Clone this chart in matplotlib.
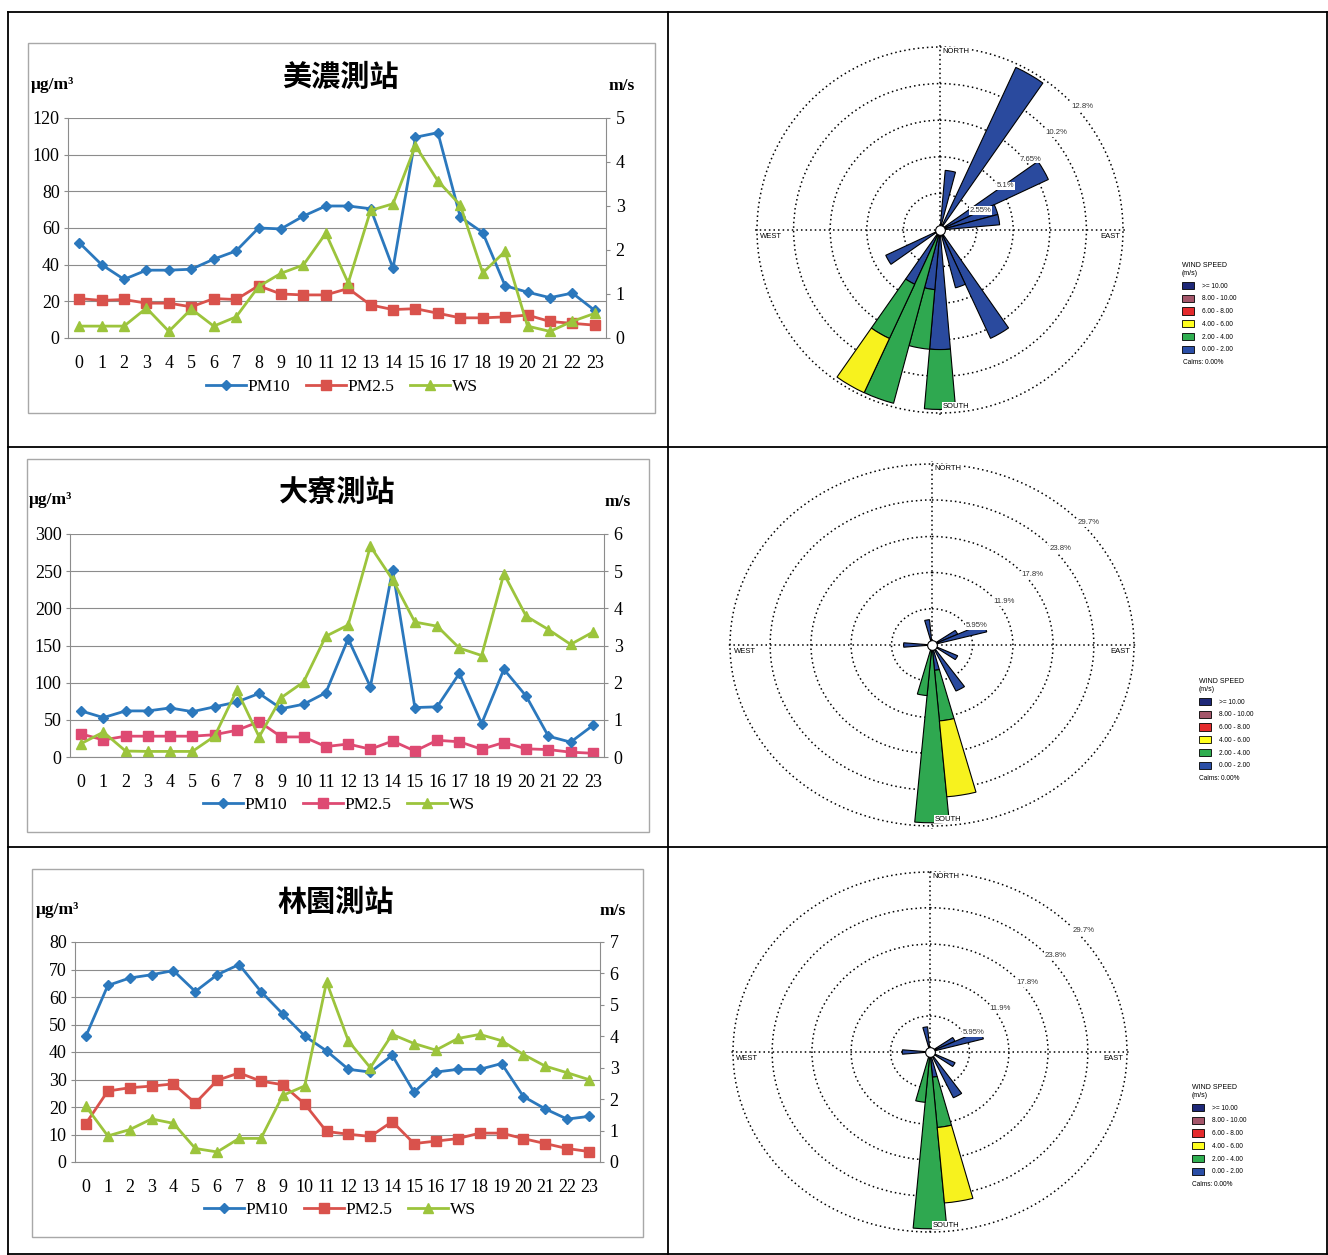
import numpy as np
import matplotlib
matplotlib.use("Agg")
import matplotlib.pyplot as plt
from matplotlib.lines import Line2D
from matplotlib.patches import Rectangle, Patch

plt.rcParams["font.family"] = ["Liberation Serif", "DejaVu Serif"]

W, H = 1328, 1255

# ---------------- hourly concentrations / wind speed ----------------
hours = list(range(24))
series_names = ["PM10", "PM2.5", "WS"]

meinong_pm10 = [52, 40, 32, 37, 37, 37.5, 43, 47.5, 60, 59.5, 66.5, 72, 72, 70.5,
                38, 109.5, 112, 66, 57.5, 28.5, 25, 22, 24.5, 15]
meinong_pm25 = [21.5, 20.5, 21, 19, 19, 17, 21.5, 21, 28.5, 24, 23.5, 23.5, 27, 18,
                15.5, 16, 13.5, 11, 11, 11.5, 12.5, 9, 8, 7]
meinong_ws = [0.27, 0.27, 0.27, 0.68, 0.15, 0.66, 0.27, 0.48, 1.17, 1.47, 1.66, 2.38,
              1.25, 2.9, 3.05, 4.37, 3.57, 3.02, 1.48, 1.97, 0.27, 0.15, 0.38, 0.56]

daliao_pm10 = [62, 53, 62, 62, 66, 61, 67.5, 74, 85.5, 65, 71, 86.5, 159, 94.5,
               252, 66.5, 67.5, 112.5, 45, 118, 82, 28, 20, 42.5]
daliao_pm25 = [31, 23, 28, 28, 28, 28, 30, 36, 47.5, 27, 27, 14, 17.5, 10.5,
               21.5, 8, 22.5, 20.5, 10.5, 19.5, 11, 10, 6.5, 5]
daliao_ws = [0.36, 0.67, 0.16, 0.15, 0.15, 0.15, 0.56, 1.8, 0.54, 1.6, 2.02, 3.25,
             3.55, 5.67, 4.77, 3.63, 3.52, 2.93, 2.73, 4.93, 3.79, 3.43, 3.03, 3.36]

linyuan_pm10 = [45.8, 64.2, 66.9, 68.1, 69.6, 62, 68.1, 71.8, 62, 53.8, 45.8, 40.4,
                33.7, 32.7, 38.8, 25.4, 32.7, 33.7, 33.7, 35.8, 23.8, 19.3, 15.6, 16.6]
linyuan_pm25 = [14, 25.8, 27, 27.6, 28.4, 21.4, 29.7, 32.4, 29.4, 28.1, 21.1, 11.1,
                10.1, 9.3, 14.7, 6.7, 7.6, 8.5, 10.5, 10.5, 8.5, 6.7, 4.9, 3.8]
linyuan_ws = [1.77, 0.83, 1.03, 1.37, 1.23, 0.43, 0.32, 0.75, 0.75, 2.12, 2.42, 5.73,
              3.85, 3.0, 4.06, 3.77, 3.56, 3.93, 4.06, 3.86, 3.42, 3.05, 2.84, 2.62]

# ---------------- wind roses (percent of hours per direction and speed class) ----------------
speed_classes = [">= 10.00", "8.00 - 10.00", "6.00 - 8.00", "4.00 - 6.00",
                 "2.00 - 4.00", "0.00 - 2.00"]

meinong_dirs = [10, 30, 60, 70, 80, 150, 160, 180, 190, 200, 210, 240]
meinong_s02 = [4.17, 12.5, 8.33, 4.17, 4.17, 8.33, 4.17, 8.33, 4.17, 0, 4.17, 4.17]
meinong_s24 = [0, 0, 0, 0, 0, 0, 0, 4.17, 4.17, 12.5, 4.17, 0]
meinong_s46 = [0, 0, 0, 0, 0, 0, 0, 0, 0, 0, 4.17, 0]
meinong_rings = [2.55, 5.1, 7.65, 10.2, 12.75]
meinong_ring_labels = ["2.55%", "5.1%", "7.65%", "10.2%", "12.8%"]

daliao_dirs = [60, 70, 120, 150, 170, 180, 190, 270, 350]
daliao_s02 = [4.17, 8.33, 4.17, 8.33, 4.17, 0, 0, 4.17, 4.17]
daliao_s24 = [0, 0, 0, 0, 8.33, 29.17, 8.33, 0, 0]
daliao_s46 = [0, 0, 0, 0, 12.5, 0, 0, 0, 0]
daliao_rings = [5.95, 11.9, 17.8, 23.8, 29.7]
daliao_ring_labels = ["5.95%", "11.9%", "17.8%", "23.8%", "29.7%"]

linyuan_dirs = [60, 70, 120, 150, 170, 180, 190, 270, 350]
linyuan_s02 = [4.17, 8.33, 4.17, 8.33, 4.17, 0, 0, 4.17, 4.17]
linyuan_s24 = [0, 0, 0, 0, 8.33, 29.17, 8.33, 0, 0]
linyuan_s46 = [0, 0, 0, 0, 12.5, 0, 0, 0, 0]
linyuan_rings = [5.95, 11.9, 17.8, 23.8, 29.7]
linyuan_ring_labels = ["5.95%", "11.9%", "17.8%", "23.8%", "29.7%"]

# ---------------- styling ----------------
C_PM10 = "#2b78bd"
C_WS = "#9cc43c"
C_GRID = "#8c8c8c"
ROSE_BLUE = "#2a4a9e"
ROSE_GREEN = "#2fa850"
ROSE_YELLOW = "#f7f21e"
legend_colors = ["#1e2878", "#a4566a", "#e42a2c", "#ffff1e", "#2fae50", "#2a4ea6"]
SANS = ["Liberation Sans", "DejaVu Sans"]
CJK = ["Noto Sans CJK TC", "DejaVu Sans"]
TICK_FS = 13

fig = plt.figure(figsize=(W / 100, H / 100), dpi=100)
fig.patch.set_facecolor("white")


def fx(x):
    return x / W


def fy(y):
    return 1 - y / H


def px_rect(x0, y0, x1, y1):
    return [x0 / W, 1 - y1 / H, (x1 - x0) / W, (y1 - y0) / H]


def fig_line(xs, ys, lw=1.3, color="black"):
    fig.add_artist(Line2D([fx(v) for v in xs], [fy(v) for v in ys],
                          transform=fig.transFigure, color=color, lw=lw))


# table frame
fig_line([8, 1327], [12, 12])
fig_line([8, 1327], [447, 447])
fig_line([8, 1327], [847, 847])
fig_line([8, 1327], [1254, 1254])
fig_line([8, 8], [12, 1254])
fig_line([668, 668], [12, 1254])
fig_line([1327, 1327], [12, 1254])


def hourly_panel(frame, plot, title, title_pos, lunit_pos, runit_pos, legend_pos,
                 pm10, pm25, ws, left_max, left_step, right_max, pm25_color):
    fig.add_artist(Rectangle((fx(frame[0]), fy(frame[3])),
                             (frame[2] - frame[0]) / W, (frame[3] - frame[1]) / H,
                             transform=fig.transFigure, fill=False, ec="#a8a8a8", lw=1.0))
    ax = fig.add_axes(px_rect(*plot))
    ax2 = ax.twinx()
    x = np.arange(len(hours))
    ax.plot(x, pm25, color=pm25_color, lw=2.0, marker="s", ms=6.5, zorder=2)
    ax.plot(x, pm10, color=C_PM10, lw=2.0, marker="D", ms=5.5, zorder=3)
    ax2.plot(x, ws, color=C_WS, lw=2.0, marker="^", ms=7.5, zorder=3)

    ax.set_xlim(-0.5, len(hours) - 0.5)
    ax.set_ylim(0, left_max)
    ax.set_yticks(np.arange(0, left_max + 1, left_step))
    ax2.set_ylim(0, right_max)
    ax2.set_yticks(np.arange(0, right_max + 1, 1))
    ax.set_xticks(x)
    ax.set_xticklabels([str(h) for h in hours])
    ax.grid(axis="y", color=C_GRID, lw=0.8)
    ax.set_axisbelow(True)
    for a in (ax, ax2):
        a.set_facecolor("none")
        for s in a.spines.values():
            s.set_visible(False)
    ax.spines["left"].set_visible(True)
    ax.spines["bottom"].set_visible(True)
    ax2.spines["right"].set_visible(True)
    for s in (ax.spines["left"], ax.spines["bottom"], ax2.spines["right"]):
        s.set_color(C_GRID)
        s.set_linewidth(0.8)
    ax.tick_params(axis="y", length=3, color=C_GRID, labelsize=TICK_FS, pad=3)
    ax2.tick_params(axis="y", length=3, color=C_GRID, labelsize=TICK_FS, pad=4)
    ax.tick_params(axis="x", length=0, labelsize=TICK_FS, pad=12)

    handles = [Line2D([], [], color=C_PM10, lw=2.0, marker="D", ms=5.5),
               Line2D([], [], color=pm25_color, lw=2.0, marker="s", ms=6.5),
               Line2D([], [], color=C_WS, lw=2.0, marker="^", ms=7.5)]
    ax.legend(handles, series_names, loc="center",
              bbox_to_anchor=(fx(legend_pos[0]), fy(legend_pos[1])),
              bbox_transform=fig.transFigure, ncol=3, frameon=False, fontsize=12.5,
              handlelength=2.3, handletextpad=0.1, columnspacing=0.9)

    fig.text(fx(title_pos[0]), fy(title_pos[1]), title, family=CJK, weight="bold",
             fontsize=21, ha="center", va="center")
    fig.text(fx(lunit_pos[0]), fy(lunit_pos[1]), "μg/m³", weight="bold",
             fontsize=12.5, ha="left", va="center")
    fig.text(fx(runit_pos[0]), fy(runit_pos[1]), "m/s", weight="bold",
             fontsize=12.5, ha="left", va="center")


hourly_panel((28, 43, 655, 413), (68, 118, 606, 338), "美濃測站", (340, 77),
             (31, 85), (609, 86), (342, 387),
             meinong_pm10, meinong_pm25, meinong_ws, 120, 20, 5, "#d9524c")
hourly_panel((27, 459, 649, 832), (70, 534, 604, 757), "大寮測站", (337, 492),
             (29, 500), (605, 502), (339, 805),
             daliao_pm10, daliao_pm25, daliao_ws, 300, 50, 6, "#de4a72")
hourly_panel((32, 869, 643, 1237), (75, 942, 600, 1162), "林園測站", (336, 902),
             (36, 910), (600, 911), (340, 1210),
             linyuan_pm10, linyuan_pm25, linyuan_ws, 80, 10, 7, "#d9524c")


def wind_rose(center, rx, ry, dirs, s02, s24, s46, rings, ring_labels, legend_pos, calms_pos):
    cx, cy = center
    grow = 1.015  # keep the outermost dotted ring fully inside the axes
    ax = fig.add_axes(px_rect(cx - rx * grow, cy - ry * grow, cx + rx * grow, cy + ry * grow),
                      projection="polar")
    ax.set_aspect("auto")
    ax.set_theta_zero_location("N")
    ax.set_theta_direction(-1)
    rmax = rings[-1]
    ax.set_ylim(0, rmax * grow)
    ax.set_rticks(rings)
    ax.set_yticklabels([])
    ax.set_thetagrids([0, 90, 180, 270], labels=["", "", "", ""])
    ax.grid(True, color="black", linestyle=(0, (1.0, 2.0)), lw=1.1)
    ax.spines["polar"].set_visible(False)
    ax.set_axisbelow(True)
    ax.set_facecolor("none")

    theta = np.deg2rad(dirs)
    base = np.zeros(len(dirs))
    for vals, col in ((s02, ROSE_BLUE), (s24, ROSE_GREEN), (s46, ROSE_YELLOW)):
        vals = np.asarray(vals, dtype=float)
        keep = vals > 0
        ax.bar(theta[keep], vals[keep], width=np.deg2rad(10), bottom=base[keep],
               color=col, edgecolor="black", linewidth=0.8, zorder=2)
        base = base + vals
    ax.plot([0], [0], marker="o", ms=7, mfc="white", mec="black", mew=0.8,
            zorder=6, clip_on=False)

    label_angles = [64, 56, 52, 50, 49]
    for k, (r, lab) in enumerate(zip(rings, ring_labels)):
        off = 0.045 if k == 0 else 0.03
        ax.text(np.deg2rad(label_angles[k]), r + off * rmax, lab, family=SANS,
                fontsize=5.6, color="#333333", ha="center", va="center", zorder=5,
                bbox=dict(fc="white", ec="none", pad=0.6))

    box = dict(fc="white", ec="none", pad=0.4)
    ax.text(0.507, 0.99, "NORTH", transform=ax.transAxes, family=SANS, fontsize=5.5,
            ha="left", va="top", bbox=box, zorder=5)
    ax.text(0.507, 0.016, "SOUTH", transform=ax.transAxes, family=SANS, fontsize=5.5,
            ha="left", va="bottom", bbox=box, zorder=5)
    ax.text(0.016, 0.493, "WEST", transform=ax.transAxes, family=SANS, fontsize=5.5,
            ha="left", va="top", bbox=box, zorder=5)
    ax.text(0.984, 0.493, "EAST", transform=ax.transAxes, family=SANS, fontsize=5.5,
            ha="right", va="top", bbox=box, zorder=5)

    handles = [Patch(fc=c, ec="black", lw=0.6) for c in legend_colors]
    fig.legend(handles, speed_classes, loc="upper left",
               bbox_to_anchor=(fx(legend_pos[0]), fy(legend_pos[1])),
               frameon=False, prop={"family": SANS, "size": 4.7},
               title="WIND SPEED\n(m/s)", title_fontproperties={"family": SANS, "size": 5.0},
               alignment="left", handlelength=1.9, handleheight=1.35,
               handletextpad=1.1, labelspacing=0.75, borderpad=0, borderaxespad=0)
    fig.text(fx(calms_pos[0]), fy(calms_pos[1]), "Calms: 0.00%", family=SANS,
             fontsize=4.7, ha="left", va="center")


wind_rose((940, 230), 183, 183, meinong_dirs, meinong_s02, meinong_s24, meinong_s46,
          meinong_rings, meinong_ring_labels, (1182, 262), (1183, 363))
wind_rose((932, 645), 202, 181, daliao_dirs, daliao_s02, daliao_s24, daliao_s46,
          daliao_rings, daliao_ring_labels, (1199, 678), (1199, 778))
wind_rose((930, 1052), 197, 180, linyuan_dirs, linyuan_s02, linyuan_s24, linyuan_s46,
          linyuan_rings, linyuan_ring_labels, (1192, 1084), (1192, 1184))

fig.savefig("out.png", dpi=100, facecolor="white")
